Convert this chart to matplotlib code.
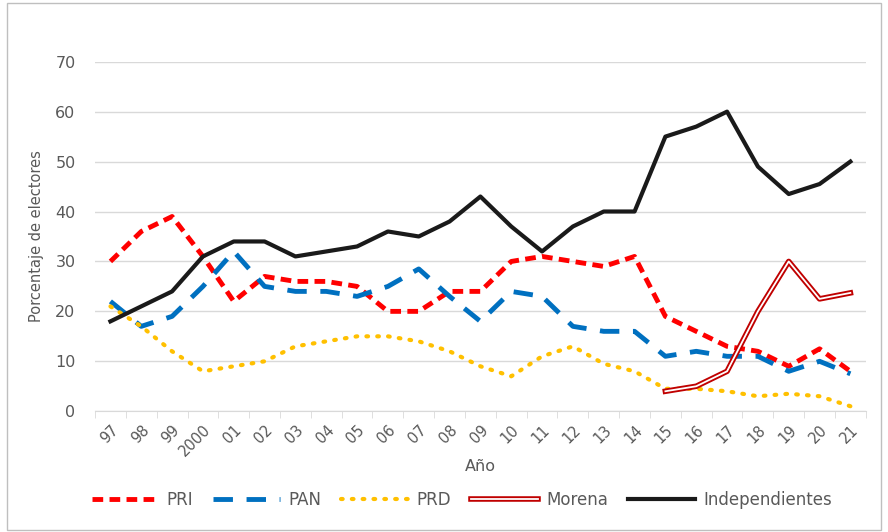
import numpy as np
import matplotlib.pyplot as plt
import matplotlib.patheffects as pe
from matplotlib.patches import Rectangle

# datos
anios = ['97', '98', '99', '2000', '01', '02', '03', '04', '05', '06', '07', '08',
         '09', '10', '11', '12', '13', '14', '15', '16', '17', '18', '19', '20', '21']

pri = [30, 36, 39, 31, 22, 27, 26, 26, 25, 20, 20, 24, 24, 30, 31, 30, 29, 31,
       19, 16, 13, 12, 9, 12.5, 8]
pan = [22, 17, 19, 25, 32, 25, 24, 24, 23, 25, 28.5, 23, 18, 24, 23, 17, 16, 16,
       11, 12, 11, 11, 8, 10, 7.5]
prd = [21, 17, 12, 8, 9, 10, 13, 14, 15, 15, 14, 12, 9, 7, 11, 13, 9.5, 8,
       4.5, 4.5, 4, 3, 3.5, 3, 1]
morena_idx = [18, 19, 20, 21, 22, 23, 24]
morena = [4, 5, 8, 20, 30, 22.5, 23.7]
indep = [18, 21, 24, 31, 34, 34, 31, 32, 33, 36, 35, 38, 43, 37, 32, 37, 40, 40,
         55, 57, 60, 49, 43.5, 45.5, 50]

GRID = '#d9d9d9'
TXT = '#595959'

fig = plt.figure(figsize=(8.88, 5.32), dpi=100)
fig.patches.append(Rectangle((0.008, 0.004), 0.984, 0.99, transform=fig.transFigure,
                             fill=False, edgecolor='#bfbfbf', linewidth=1))
ax = fig.add_axes([0.107, 0.227, 0.868, 0.657])

x = np.arange(len(anios))

ax.plot(x, pri, color='#ff0000', linewidth=3.5, linestyle=(0, (2.2, 1.3)), label='PRI')
ax.plot(x, pan, color='#0070c0', linewidth=3.5, linestyle=(0, (4, 2.8)), label='PAN')
ax.plot(x, prd, color='#ffc000', linewidth=3, linestyle=(0, (0.4, 2.2)),
        dash_capstyle='round', label='PRD')
# Morena: linea doble (contorno rojo, centro blanco)
ax.plot(morena_idx, morena, color='white', linewidth=1.3, label='Morena',
        path_effects=[pe.Stroke(linewidth=4, foreground='#c00000'), pe.Normal()])
ax.plot(x, indep, color='#1a1a1a', linewidth=3, label='Independientes')

ax.set_ylim(0, 70)
ax.set_xlim(-0.5, len(anios) - 0.5)
ax.set_yticks(range(0, 71, 10))
ax.yaxis.grid(True, color=GRID, linewidth=1)
ax.set_axisbelow(True)

ax.set_xticks(x)
ax.set_xticklabels(anios, rotation=45, ha='right', rotation_mode='anchor')
ax.set_xticks(np.arange(-0.5, len(anios)), minor=True)
ax.tick_params(axis='x', which='major', length=0, pad=8, labelcolor=TXT, labelsize=10.5)
ax.tick_params(axis='x', which='minor', length=5, color=GRID)
ax.tick_params(axis='y', length=0, pad=14, labelcolor=TXT, labelsize=11.5)

for s in ['top', 'right', 'left']:
    ax.spines[s].set_visible(False)
ax.spines['bottom'].set_color(GRID)

ax.set_xlabel('Año', color=TXT, fontsize=11.5, labelpad=0)
ax.set_ylabel('Porcentaje de electores', color=TXT, fontsize=10.5, labelpad=8)

leg = fig.legend(loc='lower center', ncol=5, bbox_to_anchor=(0.52, 0.015), frameon=False,
                 fontsize=12, handlelength=4, columnspacing=1.2, handletextpad=0.5)
for t in leg.get_texts():
    t.set_color(TXT)

fig.savefig('out.png', dpi=100)
